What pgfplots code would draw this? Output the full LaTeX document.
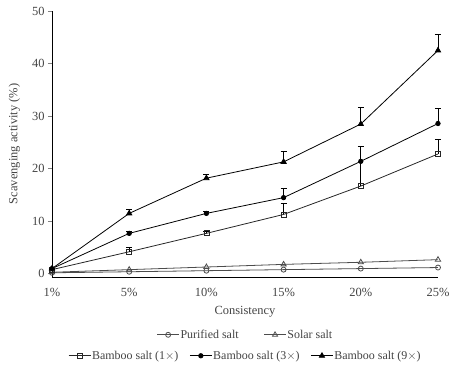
\documentclass[border=0pt]{standalone}
\usepackage{pgfplots}
\pgfplotsset{compat=1.18}
\usepackage{fontspec}
\setmainfont{Liberation Serif}
\definecolor{txt}{HTML}{444444}
\begin{document}
\begin{tikzpicture}
\pgfplotsset{
  every axis/.append style={font=\fontsize{12.5}{14}\selectfont},
  leg/.style={legend image code/.code={
    \draw[mark repeat=2,mark phase=2,##1] plot coordinates {(0bp,0bp) (11bp,0bp) (22bp,0bp)};
  }},
}
\begin{axis}[
  name=main,
  width=386bp, height=266bp, scale only axis,
  xmin=0, xmax=5, ymin=-0.6, ymax=50,
  axis x line*=bottom, axis y line*=left,
  axis line style={line width=1pt, black},
  xtick={0,1,2,3,4,5},
  xticklabels={1\%,5\%,10\%,15\%,20\%,25\%},
  xtick style={draw=none},
  ytick={0,10,20,30,40,50},
  tick align=outside, major tick length=4bp,
  ytick style={line width=0.8pt},
  /pgf/number format/assume math mode=true,
  ticklabel style={text=txt},
  xticklabel style={yshift=-4bp},
  xlabel={Consistency}, ylabel={Scavenging activity (\%)},
  label style={text=txt},
  xlabel style={yshift=-2bp},
  ylabel style={yshift=5bp},
  legend style={draw=none, at={(0.5,-0.262)}, anchor=north, text=txt, font=\fontsize{12}{14}\selectfont,
    nodes={inner xsep=1bp},
    /tikz/every even column/.append style={column sep=10bp}},
  legend columns=3,
  clip=false,
  error bars/y dir=plus, error bars/y explicit,
  error bars/error bar style={line width=0.8pt, black},
  error bars/error mark options={rotate=90, mark size=3bp, line width=0.8pt},
]
\addplot[gray!60!black, line width=0.8pt, mark=o, mark size=2.5bp, mark options={fill=white, solid}, forget plot]
  coordinates {(0,0.2) (1,0.4) (2,0.6) (3,0.8) (4,1.0) (5,1.2)};
\addplot[gray!60!black, line width=0.8pt, mark=triangle, mark size=3bp, mark options={fill=white, solid}, forget plot]
  coordinates {(0,0.3) (1,0.8) (2,1.3) (3,1.8) (4,2.2) (5,2.7)};
\addplot[black!85, line width=0.8pt, mark=square, mark size=2.5bp, mark options={fill=white, solid}, leg]
  coordinates {(0,0.8) +- (0,0) (1,4.2) +- (0,0.8) (2,7.7) +- (0,0.3) (3,11.3) +- (0,2.1) (4,16.7) +- (0,7.6) (5,22.8) +- (0,2.8)};
\addlegendentry{Bamboo salt (1$\times$)}
\addplot[black, line width=0.8pt, mark=*, mark size=2.2bp, leg]
  coordinates {(0,1.0) +- (0,0) (1,7.7) +- (0,0.4) (2,11.5) +- (0,0.3) (3,14.5) +- (0,1.7) (4,21.4) +- (0,2.9) (5,28.6) +- (0,2.9)};
\addlegendentry{Bamboo salt (3$\times$)}
\addplot[black, line width=0.8pt, mark=triangle*, mark size=3bp, leg]
  coordinates {(0,1.0) +- (0,0) (1,11.5) +- (0,0.7) (2,18.2) +- (0,0.8) (3,21.3) +- (0,1.9) (4,28.5) +- (0,3.1) (5,42.5) +- (0,3.1)};
\addlegendentry{Bamboo salt (9$\times$)}
\end{axis}
\begin{axis}[
  width=386bp, height=266bp, scale only axis,
  xmin=0, xmax=5, ymin=-0.6, ymax=50, hide axis,
  legend style={draw=none, at={(0.5,-0.183)}, anchor=north, text=txt, font=\fontsize{12}{14}\selectfont,
    nodes={inner xsep=1bp},
    /tikz/every even column/.append style={column sep=24bp}},
  legend columns=2,
]
\addlegendimage{gray!60!black, line width=0.8pt, mark=o, mark size=2.5bp, mark options={fill=white}, leg}
\addlegendentry{Purified salt}
\addlegendimage{gray!60!black, line width=0.8pt, mark=triangle, mark size=3bp, mark options={fill=white}, leg}
\addlegendentry{Solar salt}
\end{axis}
\pgfresetboundingbox
\path[use as bounding box] (main.south west) ++(-52bp,-97bp) rectangle ([xshift=29bp,yshift=11bp]main.north east);
\end{tikzpicture}
\end{document}
